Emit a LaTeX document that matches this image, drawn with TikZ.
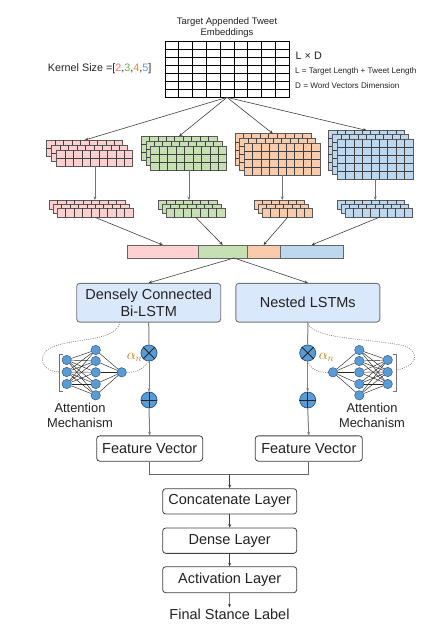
\documentclass[tikz,border=0pt]{standalone}
\usepackage{fontspec}
\setmainfont{Liberation Sans}
\usetikzlibrary{arrows.meta}
\definecolor{txt}{HTML}{222222}
\definecolor{pinkc}{HTML}{FFD0D0}
\definecolor{greenc}{HTML}{C6E0B4}
\definecolor{orangec}{HTML}{F8CBAD}
\definecolor{bluec}{HTML}{BDD7EE}
\definecolor{boxc}{HTML}{DAE8FC}
\definecolor{nodec}{HTML}{5B9BD5}
\definecolor{nodeb}{HTML}{2F5F8F}
\definecolor{k2}{HTML}{FF6B6B}
\definecolor{k3}{HTML}{70AD47}
\definecolor{k4}{HTML}{ED7D31}
\definecolor{k5}{HTML}{5B9BD5}
\definecolor{alphac}{HTML}{B8761C}
\newcommand{\fmlayer}[7]{%
  \filldraw[fill=#7, draw=black!65, line width=0.6pt] (#1,#2) rectangle ++({#3*8.45},{#4*#5});
  \pgfmathtruncatemacro{\fmnc}{#3-1}%
  \pgfmathtruncatemacro{\fmnr}{#4-1}%
  \foreach \i in {1,...,\fmnc} \draw[black!75, line width=0.5pt] ({#1+\i*8.45},#2) -- ++(0,{#4*#5});
  \ifnum\fmnr>0 \foreach \j in {1,...,\fmnr} \draw[black!75, line width=0.5pt] (#1,{#2+\j*#5}) -- ++({#3*8.45},0);\fi
}
% #1 name, #2 front x, #3 front y, #4 cols, #5 rows, #6 cell height, #7 offset, #8 fill
\newcommand{\fmstack}[8]{%
  \fmlayer{#2-2*#7}{#3-2*#7}{#4}{#5}{#6}{#8}{#8}
  \node[inner sep=0, minimum width={#4*8.45pt}, minimum height={#5*#6 pt}, anchor=north west] (#1b) at ({#2-2*#7},{#3-2*#7}) {};
  \fmlayer{#2-#7}{#3-#7}{#4}{#5}{#6}{#8}{#8}
  \fmlayer{#2}{#3}{#4}{#5}{#6}{#8}{#8}
  \node[inner sep=0, minimum width={#4*8.45pt}, minimum height={#5*#6 pt}, anchor=north west] (#1f) at (#2,#3) {};
}
\tikzset{
  arr/.style={-{Stealth[length=3.5pt,width=3pt]}, draw=black!75, line width=0.6pt},
  garr/.style={-{Stealth[length=3.5pt,width=3pt]}, draw=black!50, line width=1pt},
  gline/.style={draw=black!50, line width=1pt},
  big/.style={font=\fontsize{14.5}{16.7}\selectfont, text=txt},
  lstm/.style={draw=black!55, line width=0.9pt, fill=boxc, rounded corners=3pt, minimum width=144pt, minimum height=38.7pt, align=center, inner sep=0, big},
  wbox/.style={draw=black!75, line width=0.8pt, fill=white, rounded corners=3pt, minimum height=25.3pt, inner sep=0, big},
  nn/.style={circle, draw=nodeb, line width=0.5pt, fill=nodec, minimum size=9.4pt, inner sep=0},
  op/.style={circle, draw=nodeb, line width=0.8pt, fill=nodec, minimum size=16pt, inner sep=0},
  edge/.style={draw=black!85, line width=0.45pt},
  dots/.style={draw=black!55, line width=0.6pt, dash pattern=on 1pt off 1.2pt},
  seg/.style={draw=black!60, line width=0.8pt, minimum height=13pt, inner sep=0, anchor=north west},
}
\begin{document}
\begin{tikzpicture}[x=1pt,y=-1pt]
\useasboundingbox (0,0) rectangle (443,639);
% title and embedding grid
\node[font=\fontsize{9.5}{11.6}\selectfont, text=txt, align=center] (title) at (227,27.5) {Target Appended Tweet\\Embeddings};
\node[draw=black, line width=0.7pt, minimum width=124pt, minimum height=56pt, inner sep=0] (emb) at (227,69) {};
\foreach \i in {1,...,8} \draw[black, line width=0.6pt] ({165+\i*124/9},41) -- ++(0,56);
\foreach \j in {1,...,6} \draw[black, line width=0.6pt] (165,{41+\j*8}) -- ++(124,0);
\node[font=\fontsize{10.8}{13}\selectfont, text=txt] (ks) at (99.7,69) {Kernel Size =[{\color{k2}2},{\color{k3}3},{\color{k4}4},{\color{k5}5}]};
\node[anchor=west, inner sep=0, font=\fontsize{10.8}{13}\selectfont, text=txt] (ld) at (295.5,56) {L × D};
\node[anchor=west, inner sep=0, font=\fontsize{8.1}{10}\selectfont, text=txt] (ldef) at (295,71.5) {L = Target Length + Tweet Length};
\node[anchor=west, inner sep=0, font=\fontsize{8.1}{10}\selectfont, text=txt] (ddef) at (295,86) {D = Word Vectors Dimension};
% convolution feature maps
\fmstack{pink}{56.7}{150}{9}{2}{8}{5}{pinkc}
\fmstack{green}{150.7}{146}{9}{3}{8.2}{4.9}{greenc}
\fmstack{orange}{244}{143}{9}{4}{8}{4.6}{orangec}
\fmstack{blue}{337}{139}{9}{5}{8}{4.3}{bluec}
% pooled maps
\fmstack{pinkp}{57}{208}{9}{1}{9}{4}{pinkc}
\fmstack{greenp}{166}{208}{7}{1}{9}{4}{greenc}
\fmstack{orangep}{262}{208}{6}{1}{9}{4}{orangec}
\fmstack{bluep}{345}{208}{8}{1}{9}{4}{bluec}
% arrows from embedding
\draw[arr] (emb.south) -- (pinkb.north);
\draw[arr] (emb.south) -- (greenb.north);
\draw[arr] (emb.south) -- (orangeb.north);
\draw[arr] (emb.south) -- (blueb.north);
% pooling arrows
\foreach \c in {pink,green,orange,blue}
  \draw[-{Stealth[length=3.5pt,width=3pt]}, draw=black!55, line width=0.8pt] (\c f.south) -- (\c f.south |- \c pb.north);
% concatenated bar
\node[seg, fill=pinkc, minimum width=71.3pt] (barp) at (126.7,245) {};
\node[seg, fill=greenc, minimum width=48.7pt] (barg) at (198,245) {};
\node[seg, fill=orangec, minimum width=33pt] (baro) at (246.7,245) {};
\node[seg, fill=bluec, minimum width=63pt] (barb) at (279.7,245) {};
\draw[arr] (pinkpf.south) -- (barp.north);
\draw[arr] (greenpf.south) -- (barg.north);
\draw[arr] (orangepf.south) -- (baro.north);
\draw[arr] (bluepf.south) -- (barb.north);
\coordinate (barmid) at (234,258);
% LSTM boxes
\node[lstm] (dc) at (148.7,302.7) {Densely Connected\\Bi-LSTM};
\node[lstm] (nl) at (307.8,302.7) {Nested LSTMs};
\draw[arr] (barmid) -- (dc.north);
\draw[arr] (barmid) -- (nl.north);
% left branch
\node[op] (mulL) at (149,353) {};
\draw[black!85, line width=0.8pt] (mulL.north west) -- (mulL.south east) (mulL.north east) -- (mulL.south west);
\node[op] (addL) at (149,400) {};
\draw[black!85, line width=0.8pt] (addL.north) -- (addL.south) (addL.west) -- (addL.east);
\node[wbox, minimum width=106pt] (fvL) at (149.7,448.5) {Feature Vector};
\draw[gline] (dc.south) -- (mulL.north);
\draw[garr] (mulL.south) -- (addL.north);
\draw[garr] (addL.south) -- (fvL.north);
% right branch
\node[op] (mulR) at (307.7,353) {};
\draw[black!85, line width=0.8pt] (mulR.north west) -- (mulR.south east) (mulR.north east) -- (mulR.south west);
\node[op] (addR) at (307.7,400) {};
\draw[black!85, line width=0.8pt] (addR.north) -- (addR.south) (addR.west) -- (addR.east);
\node[wbox, minimum width=107pt] (fvR) at (308.8,448.5) {Feature Vector};
\draw[gline] (nl.south) -- (mulR.north);
\draw[garr] (mulR.south) -- (addR.north);
\draw[garr] (addR.south) -- (fvR.north);
% left attention network
\foreach \k/\y in {1/360,2/372,3/384} \node[nn] (liL\k) at (66.7,\y) {};
\foreach \k/\y in {1/350,2/361,3/372.3,4/384,5/395.3} \node[nn] (lhL\k) at (95.7,\y) {};
\node[nn] (loL) at (121.7,372.3) {};
\foreach \a in {1,2,3} \foreach \b in {1,...,5} \draw[edge] (liL\a) -- (lhL\b);
\foreach \b in {1,...,5} \draw[edge] (lhL\b) -- (loL);
\draw[black!55, line width=0.8pt] (63,354) -- (59.5,354) -- (59.5,391) -- (63,391);
\coordinate (brL) at (59.5,372);
\coordinate (dcs) at (120,322);
\draw[dots] (dcs) .. controls (116,345) and (60,336) .. (45,352) .. controls (38,362) and (46,372) .. (brL);
\draw[dots] (loL.east) .. controls (136,373) and (143,369) .. (mulL.south);
\node[text=alphac, font=\fontsize{14}{16}\selectfont] (alL) at (134.5,357.5) {$\alpha_n$};
\node[font=\fontsize{12.9}{15.4}\selectfont, text=txt, align=center] (attL) at (80,415.5) {Attention\\Mechanism};
% right attention network
\foreach \k/\y in {1/360,2/372,3/384} \node[nn] (liR\k) at (387.7,\y) {};
\foreach \k/\y in {1/350,2/361,3/372.3,4/384,5/395.3} \node[nn] (lhR\k) at (359.3,\y) {};
\node[nn] (loR) at (333,372.3) {};
\foreach \a in {1,2,3} \foreach \b in {1,...,5} \draw[edge] (liR\a) -- (lhR\b);
\foreach \b in {1,...,5} \draw[edge] (lhR\b) -- (loR);
\draw[black!55, line width=0.8pt] (393,354) -- (396.5,354) -- (396.5,391) -- (393,391);
\coordinate (brR) at (396.5,370);
\coordinate (nls) at (307,322);
\draw[dots] (nls) .. controls (312,340) and (370,338) .. (405,346) .. controls (420,352) and (418,366) .. (brR);
\draw[dots] (loR.west) .. controls (318,373) and (311,369) .. (mulR.south);
\node[text=alphac, font=\fontsize{14}{16}\selectfont] (alR) at (326.5,357.5) {$\alpha_n$};
\node[font=\fontsize{12.9}{15.4}\selectfont, text=txt, align=center] (attR) at (372,415.5) {Attention\\Mechanism};
% merging and output layers
\node[wbox, minimum width=134pt] (cat) at (229.7,501.3) {Concatenate Layer};
\node[wbox, minimum width=134pt] (dense) at (229.7,540.7) {Dense Layer};
\node[wbox, minimum width=134pt, minimum height=26pt] (act) at (229.7,579.7) {Activation Layer};
\node[big, inner sep=1pt] (final) at (229.5,614) {Final Stance Label};
\coordinate (join) at (229.7,474.7);
\draw[draw=black!60, line width=0.9pt] (fvL.south) |- (join) -| (fvR.south);
\draw[arr] (join) -- (cat.north);
\draw[arr] (cat.south) -- (dense.north);
\draw[arr] (dense.south) -- (act.north);
\draw[arr] (act.south) -- (final.north);
\end{tikzpicture}
\end{document}
